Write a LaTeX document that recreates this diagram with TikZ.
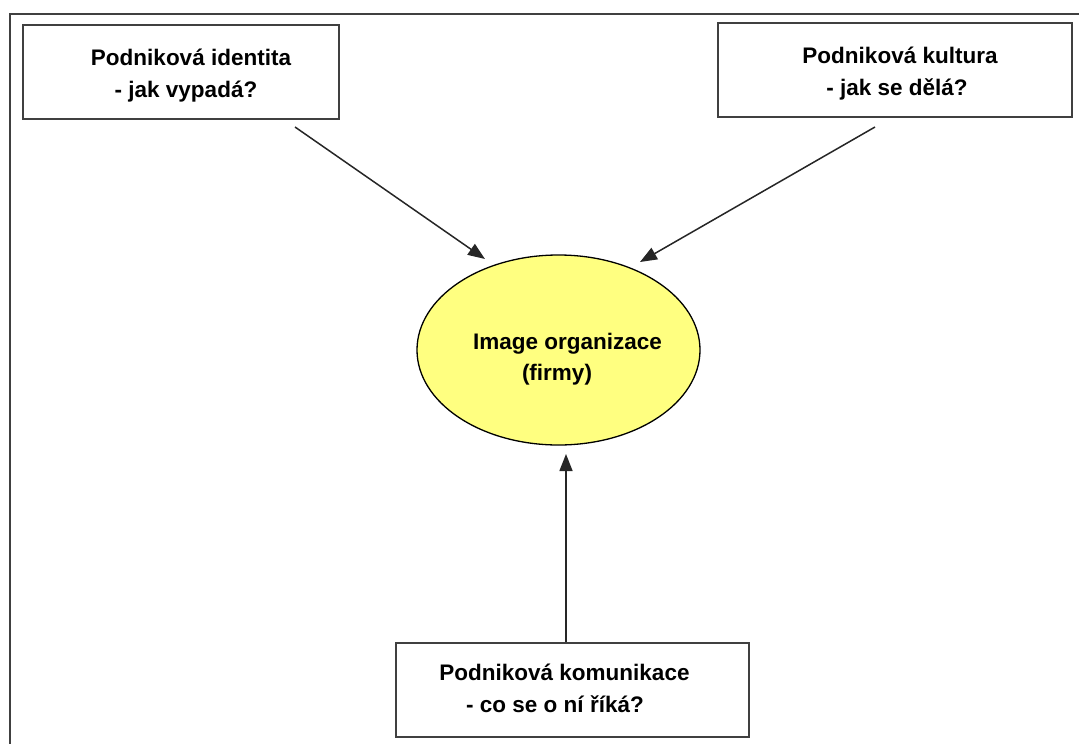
\documentclass[tikz,border=0pt]{standalone}
\usepackage{fontspec}
\setmainfont{Liberation Sans}
\usetikzlibrary{arrows.meta,shapes.geometric}
\definecolor{framegray}{HTML}{404040}
\definecolor{ovalfill}{HTML}{FFFF80}

\begin{document}
\begin{tikzpicture}[x=1pt,y=-1pt,
  box/.style={draw=framegray, line width=2pt, rectangle, inner sep=0pt},
  oval/.style={draw=black, line width=1.3pt, fill=ovalfill, ellipse, inner sep=0pt},
  lbl/.style={font=\fontsize{22.5}{32}\selectfont\bfseries, anchor=base, inner sep=0pt},
  link/.style={draw=black!85, line width=1.5pt, -{Triangle[length=17pt,width=13pt]}}]
\useasboundingbox (0,0) rectangle (1079,744);

% page frame (only top and left edges fall inside)
\draw[framegray, line width=2pt] (1100,14) -- (10,14) -- (10,760);

% boxes and central ellipse
\node[box, minimum width=316pt, minimum height=94pt] (identita) at (181,72) {};
\node[box, minimum width=354pt, minimum height=94pt] (kultura) at (895,70) {};
\node[box, minimum width=353pt, minimum height=94pt] (komunikace) at (572.5,690) {};
\node[oval, minimum width=283pt, minimum height=190pt] (image) at (558.5,350) {};

% labels
\node[lbl] (identita1) at (191,65) {Podniková identita};
\node[lbl] (identita2) at (186,97) {- jak vypadá?};
\node[lbl] (kultura1) at (900,63) {Podniková kultura};
\node[lbl] (kultura2) at (897,95) {- jak se dělá?};
\node[lbl] (komunikace1) at (564.5,680) {Podniková komunikace};
\node[lbl] (komunikace2) at (555,712) {- co se o ní říká?};
\node[lbl] (image1) at (567.5,349) {Image organizace};
\node[lbl] (image2) at (557,380) {(firmy)};

% connectors
\coordinate (s1) at (295,127);
\coordinate (t1) at (485,259);
\coordinate (s2) at (875,127);
\coordinate (t2) at (640,262);
\coordinate (t3) at (566,454);
\draw[link] (s1) -- (t1);
\draw[link] (s2) -- (t2);
\draw[link] (komunikace.north -| t3) -- (t3);
\end{tikzpicture}
\end{document}
